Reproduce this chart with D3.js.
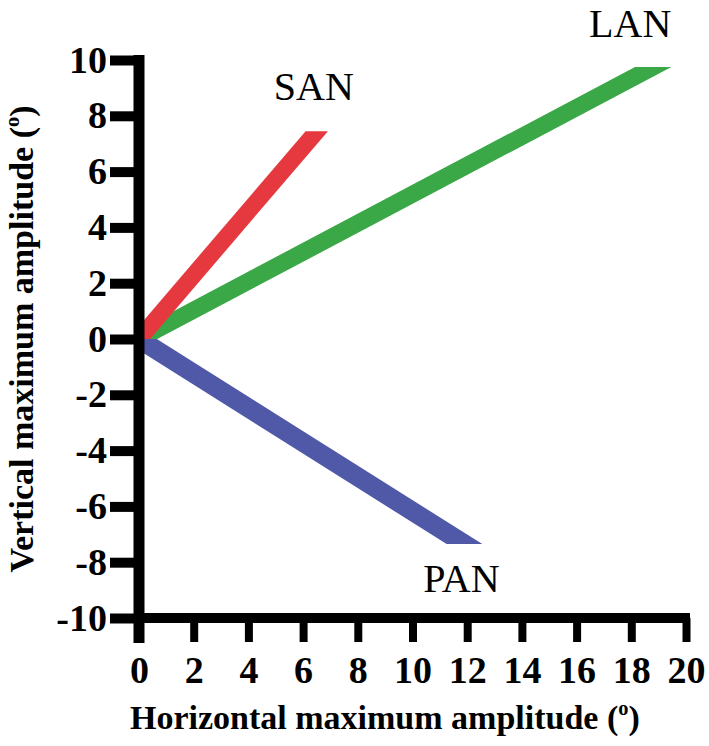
<!DOCTYPE html>
<html>
<head>
<meta charset="utf-8">
<script src="https://cdn.jsdelivr.net/npm/d3@7/dist/d3.min.js"></script>
<style>
  html, body { margin: 0; padding: 0; background: #fff; }
  svg { display: block; }
  text { font-family: "Liberation Serif", "Times New Roman", serif; fill: #000; }
</style>
</head>
<body>
<svg id="chart" width="709" height="746"></svg>
<script>
// data
const series = ["LAN", "SAN", "PAN"];
const startX = [0, 0, 0];
const startY = [0, 0, 0];
const endX = [18.8, 6.5, 11.9];
const endY = [9.75, 7.45, -7.35];
const xTicks = [0, 2, 4, 6, 8, 10, 12, 14, 16, 18, 20];
const yTicks = [-10, -8, -6, -4, -2, 0, 2, 4, 6, 8, 10];

// styles
const colors = { LAN: "#3aa846", SAN: "#e5393f", PAN: "#5058a8" };
const bandWidth = { LAN: 17, SAN: 17, PAN: 19 };
const labelOffset = { LAN: [-23, -30], SAN: [-3, -31], PAN: [-3, 48] };

const svg = d3.select("#chart");

const x = d3.scaleLinear().domain([0, 20]).range([139, 686]);
const y = d3.scaleLinear().domain([-10, 10]).range([618, 60]);

// clip so bands start at the y axis
svg.append("clipPath").attr("id", "plotClip")
  .append("rect")
  .attr("x", x(0)).attr("y", 0)
  .attr("width", 709 - x(0)).attr("height", 746);

const rows = series.map((s, i) => ({
  name: s, x0: startX[i], y0: startY[i], x1: endX[i], y1: endY[i]
}));

// thick bands with horizontal end cuts
const band = d3.line();
svg.append("g").attr("clip-path", "url(#plotClip)")
  .selectAll("path")
  .data(rows)
  .enter().append("path")
  .attr("fill", d => colors[d.name])
  .attr("d", d => {
    const px0 = x(d.x0), py0 = y(d.y0), px1 = x(d.x1), py1 = y(d.y1);
    const theta = Math.atan2(Math.abs(py1 - py0), px1 - px0);
    const h = bandWidth[d.name] / (2 * Math.sin(theta));
    return band([[px0 - h, py0], [px0 + h, py0], [px1 + h, py1], [px1 - h, py1]]) + "Z";
  });

// series labels
svg.append("g")
  .selectAll("text")
  .data(rows)
  .enter().append("text")
  .attr("x", d => x(d.x1) + labelOffset[d.name][0])
  .attr("y", d => y(d.y1) + labelOffset[d.name][1])
  .attr("text-anchor", "middle")
  .style("font-size", "40px")
  .text(d => d.name);

// axes
const yAxis = svg.append("g")
  .attr("transform", "translate(" + x(0) + ",0)")
  .call(d3.axisLeft(y).tickValues(yTicks).tickSize(29).tickPadding(3)
    .tickFormat(d => String(d)));
const xAxis = svg.append("g")
  .attr("transform", "translate(0," + y(-10) + ")")
  .call(d3.axisBottom(x).tickValues(xTicks).tickSize(24).tickPadding(14)
    .tickFormat(d => String(d)));

[yAxis, xAxis].forEach(g => {
  g.select(".domain").remove();
  g.attr("font-family", null).attr("font-size", null);
  g.selectAll("text")
    .style("font-size", "38px")
    .style("font-weight", "bold");
});
yAxis.selectAll(".tick line").attr("stroke", "#000").attr("stroke-width", 10);
xAxis.selectAll(".tick line").attr("stroke", "#000").attr("stroke-width", 8);

// spines
svg.append("line")
  .attr("x1", x(0)).attr("x2", x(0))
  .attr("y1", y(10) - 5).attr("y2", y(-10) + 25)
  .attr("stroke", "#000").attr("stroke-width", 11);
svg.append("line")
  .attr("x1", x(0) - 5).attr("x2", x(20) + 4)
  .attr("y1", y(-10)).attr("y2", y(-10))
  .attr("stroke", "#000").attr("stroke-width", 10);

// axis titles
function title(sel, main, size) {
  sel.append("tspan").text(main + " (");
  sel.append("tspan").attr("dy", -size * 0.4).style("font-size", (size * 0.6) + "px").text("o");
  sel.append("tspan").attr("dy", size * 0.4).text(")");
}
const xt = svg.append("text")
  .attr("x", 130)
  .attr("y", 729)
  .style("font-size", "34px")
  .style("font-weight", "bold");
title(xt, "Horizontal maximum amplitude", 34);

const yt = svg.append("text")
  .attr("transform", "translate(33," + y(0) + ") rotate(-90)")
  .attr("text-anchor", "middle")
  .style("font-size", "34px")
  .style("font-weight", "bold");
title(yt, "Vertical maximum amplitude", 34);
</script>
</body>
</html>
